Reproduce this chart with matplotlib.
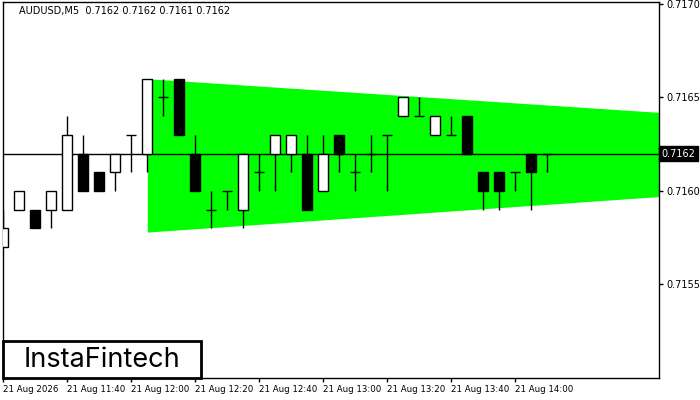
import matplotlib
matplotlib.use("Agg")
import matplotlib.pyplot as plt
from matplotlib.patches import Rectangle

# AUDUSD M5 candles (index 0 = 11:20)
opens  = [0.7157, 0.7159, 0.7159, 0.7159, 0.7159, 0.7162, 0.7161, 0.7161, 0.7163, 0.7162,
          0.7165, 0.7166, 0.7162, 0.7159, 0.7160, 0.7159, 0.7161, 0.7162, 0.7162, 0.7162,
          0.7160, 0.7163, 0.7161, 0.7162, 0.7163, 0.7164, 0.7164, 0.7163, 0.7163, 0.7164,
          0.7161, 0.7161, 0.7161, 0.7162, 0.7162]
highs  = [0.7159, 0.7160, 0.7159, 0.7160, 0.7164, 0.7163, 0.7161, 0.7162, 0.7163, 0.7166,
          0.7166, 0.7166, 0.7163, 0.7160, 0.7160, 0.7162, 0.7162, 0.7163, 0.7163, 0.7163,
          0.7163, 0.7163, 0.7162, 0.7163, 0.7163, 0.7165, 0.7165, 0.7164, 0.7164, 0.7164,
          0.7161, 0.7161, 0.7161, 0.7162, 0.7162]
lows   = [0.7157, 0.7159, 0.7158, 0.7158, 0.7159, 0.7160, 0.7160, 0.7160, 0.7161, 0.7161,
          0.7164, 0.7163, 0.7160, 0.7158, 0.7159, 0.7158, 0.7160, 0.7160, 0.7161, 0.7159,
          0.7160, 0.7161, 0.7160, 0.7161, 0.7160, 0.7164, 0.7164, 0.7163, 0.7163, 0.7162,
          0.7159, 0.7159, 0.7160, 0.7159, 0.7161]
closes = [0.7158, 0.7160, 0.7158, 0.7160, 0.7163, 0.7160, 0.7160, 0.7162, 0.7163, 0.7166,
          0.7165, 0.7163, 0.7160, 0.7159, 0.7160, 0.7162, 0.7161, 0.7163, 0.7163, 0.7159,
          0.7162, 0.7162, 0.7161, 0.7162, 0.7163, 0.7165, 0.7164, 0.7164, 0.7163, 0.7162,
          0.7160, 0.7160, 0.7161, 0.7161, 0.7162]

# green pattern (symmetric triangle) edges
band_x = [9, 41]
band_top = [0.71660, 0.71642]
band_bot = [0.71578, 0.71597]

last_price = 0.7162
title = "AUDUSD,M5  0.7162 0.7162 0.7161 0.7162"

tick_idx = [0, 4, 8, 12, 16, 20, 24, 28, 32]
tick_labels = ["21 Aug 2026", "21 Aug 11:40", "21 Aug 12:00", "21 Aug 12:20", "21 Aug 12:40",
               "21 Aug 13:00", "21 Aug 13:20", "21 Aug 13:40", "21 Aug 14:00"]
price_ticks = [0.7155, 0.7160, 0.7165, 0.7170]

fig = plt.figure(figsize=(7, 4), dpi=100)
ax = fig.add_axes([2.5 / 700, 22 / 400, 656.5 / 700, 376 / 400])

ax.fill_between(band_x, band_bot, band_top, color="#00ff00", lw=0, zorder=1)
ax.axhline(last_price, color="black", lw=1, zorder=2)

w = 0.62
for i in range(len(opens)):
    o, h, l, c = opens[i], highs[i], lows[i], closes[i]
    ax.vlines(i, l, h, color="black", lw=1, zorder=3)
    if o == c:
        ax.hlines(o, i - w / 2, i + w / 2, color="black", lw=1, zorder=4)
    else:
        face = "white" if c > o else "black"
        ax.add_patch(Rectangle((i - w / 2, min(o, c)), w, abs(c - o),
                               facecolor=face, edgecolor="black", lw=1, zorder=4))

ax.set_xlim(-0.05, 40.98)
ax.set_ylim(0.71500, 0.71701)

ax.yaxis.tick_right()
ax.set_yticks(price_ticks)
ax.set_yticklabels(["%.4f" % p for p in price_ticks])
ax.tick_params(axis="y", length=3, width=1, pad=2, labelsize=7, colors="black")
ax.set_xticks(tick_idx)
ax.set_xticklabels(tick_labels, ha="left")
ax.tick_params(axis="x", length=3, width=1, pad=2, labelsize=6.2)

for s in ax.spines.values():
    s.set_linewidth(1)

# current price label on the right scale
ax.text(1.004, last_price, "0.7162", transform=ax.get_yaxis_transform(), color="white",
        fontsize=7, va="center", ha="left",
        bbox=dict(boxstyle="square,pad=0.25", facecolor="black", edgecolor="black"))

fig.text(19 / 700, 1 - 11 / 400, title, fontsize=7, va="center", ha="left")

# logo box
fig.patches.append(Rectangle((3 / 700, 22 / 400), 198 / 700, 37 / 400, transform=fig.transFigure,
                             facecolor="white", edgecolor="black", lw=2, zorder=10))
fig.text(102 / 700, 1 - 360 / 400, "InstaFintech", fontsize=19.5, family="Inter",
         va="center", ha="center", zorder=11)

fig.savefig("out.png", dpi=100)
